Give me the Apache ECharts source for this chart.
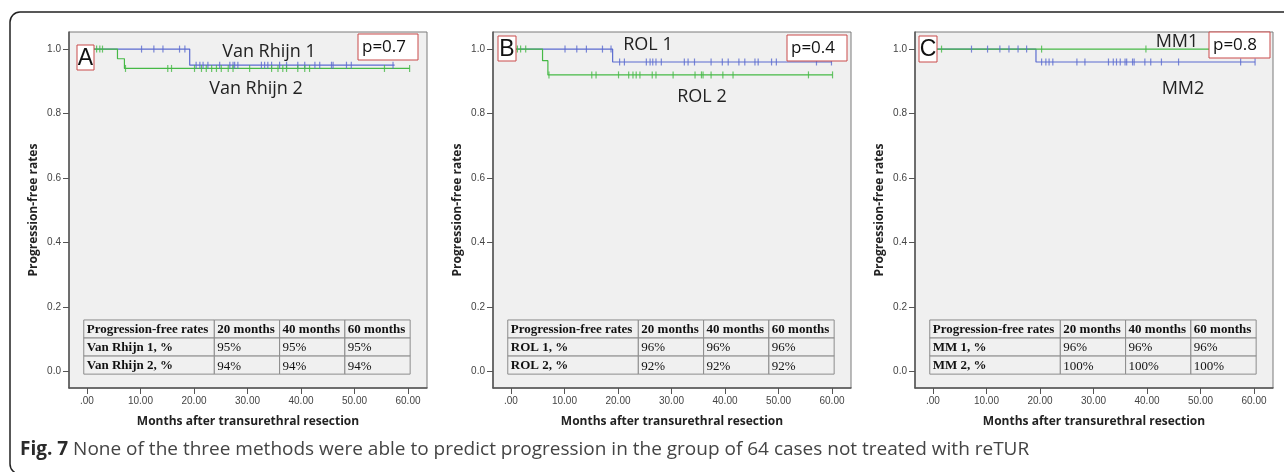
<!DOCTYPE html>
<html>
<head>
<meta charset="utf-8">
<script src="https://cdn.jsdelivr.net/npm/echarts@6/dist/echarts.min.js"></script>
<style>
  html, body { margin: 0; padding: 0; background: #fff; }
  #chart { width: 1284px; height: 472px; }
</style>
</head>
<body>
<div id="chart"></div>
<script>
// ---- data ----
const xTicks = [0, 10, 20, 30, 40, 50, 60];
const yTicks = [0, 0.2, 0.4, 0.6, 0.8, 1.0];
const tableHeader = ["Progression-free rates", "20 months", "40 months", "60 months"];

// A: Van Rhijn
const vr1Steps = [[0, 1], [19.2, 0.95], [57.5, 0.95]];
const vr1Censor = [10.2, 12.5, 14.2, 17.3, 18.3, 20.4, 21.1, 21.7, 22.6, 24.8, 26.7, 27.3, 27.6, 28.2,
  32.6, 33.2, 33.8, 34.5, 36.0, 37.3, 39.4, 40.7, 42.6, 43.5, 45.7, 46.0, 48.5, 49.4, 57.2];
const vr2Steps = [[0, 1], [5.7, 0.97], [7.0, 0.94], [60.3, 0.94]];
const vr2Censor = [1.8, 2.4, 2.9, 7.2, 15.1, 15.8, 20.1, 21.4, 22.3, 23.3, 24.2, 25.1, 26.4, 27.3,
  30.4, 34.5, 35.7, 36.6, 37.3, 39.4, 40.7, 41.6, 55.6, 60.3];
const vrTable = [["Van Rhijn 1, %", "95%", "95%", "95%"], ["Van Rhijn 2, %", "94%", "94%", "94%"]];

// B: ROL
const rol1Steps = [[0, 1], [19.0, 0.96], [60, 0.96]];
const rol1Censor = [10.1, 12.3, 14.1, 17.1, 18.7, 20.3, 21.2, 25.3, 26.0, 26.5, 27.1, 28.1, 32.4, 33.1,
  34.3, 37.4, 39.5, 40.6, 42.6, 43.7, 45.6, 46.2, 48.7, 49.6, 57.1, 59.9];
const rol2Steps = [[0, 1], [5.9, 0.964], [6.9, 0.92], [60.1, 0.92]];
const rol2Censor = [1.2, 1.8, 2.75, 7.1, 15.1, 15.9, 20.1, 22.0, 22.8, 23.4, 24.1, 26.4, 27.1, 30.3,
  34.4, 35.6, 35.9, 37.4, 39.6, 41.5, 55.6, 60.1];
const rolTable = [["ROL 1, %", "96%", "96%", "96%"], ["ROL 2, %", "92%", "92%", "92%"]];

// C: MM
const mm2Steps = [[0, 1], [19.25, 0.96], [60.2, 0.96]];
const mm2Censor = [7.2, 10.2, 12.5, 14.2, 15.9, 17.5, 20.3, 21.1, 21.7, 22.4, 26.9, 28.4, 32.8, 33.7,
  34.3, 35.0, 35.9, 36.2, 37.3, 37.6, 39.6, 40.7, 42.7, 45.9, 57.5, 60.2];
const mm1Steps = [[0, 1], [55, 1]];
const mm1Censor = [1.6, 20.3, 39.8];
const mmTable = [["MM 1, %", "96%", "96%", "96%"], ["MM 2, %", "100%", "100%", "100%"]];

// ---- layout ----
const BLUE = "#5b6bcf";
const GREEN = "#46b946";
const RED = "#c94a4a";
const tableCols = [-0.6, 23.8, 36.0, 48.2, 60.4];   // months
const tableRowsY = [0.16, 0.104, 0.048, -0.008];    // rate

const panels = [
  { left: 69, blue: [vr1Steps, vr1Censor], green: [vr2Steps, vr2Censor], table: vrTable,
    letter: "A", letterBox: [77, 45, 17, 25], pText: "p=0.7", pBox: [358, 34, 60, 26],
    lab1: ["Van Rhijn 1", 269, 52], lab2: ["Van Rhijn 2", 256, 89] },
  { left: 493, blue: [rol1Steps, rol1Censor], green: [rol2Steps, rol2Censor], table: rolTable,
    letter: "B", letterBox: [498, 36, 18, 25], pText: "p=0.4", pBox: [787, 35, 60, 26],
    lab1: ["ROL 1", 648, 45], lab2: ["ROL 2", 702, 97] },
  { left: 915, blue: [mm2Steps, mm2Censor], green: [mm1Steps, mm1Censor], table: mmTable,
    letter: "C", letterBox: [919, 36, 18, 26], pText: "p=0.8", pBox: [1209, 32, 61, 26],
    lab1: ["MM1", 1177, 42], lab2: ["MM2", 1183, 89] }
];

function survAt(steps, t) {
  let s = steps[0][1];
  steps.forEach((p) => { if (p[0] <= t) s = p[1]; });
  return s;
}

let grid = [], xAxis = [], yAxis = [], series = [], graphic = [];

panels.forEach((pn, i) => {
  grid.push({
    left: pn.left, top: 32, width: 358, height: 356, show: true,
    backgroundColor: "#f0f0f0", borderColor: "#7a7a7a", borderWidth: 1
  });
  xAxis.push({
    gridIndex: i, type: "value", min: -3.36, max: 63.55,
    name: "Months after transurethral resection", nameLocation: "middle", nameGap: 28,
    nameTextStyle: { fontFamily: "Open Sans", fontWeight: "bold", fontSize: 12, color: "#222" },
    axisLine: { onZero: false, lineStyle: { color: "#555", width: 1.5 } },
    axisTick: { customValues: xTicks, length: 6, lineStyle: { color: "#555" } },
    axisLabel: { customValues: xTicks, fontFamily: "Liberation Sans", fontSize: 10, color: "#444", margin: 8,
      formatter: (v) => (v === 0 ? ".00" : v.toFixed(2)) },
    splitLine: { show: false }
  });
  yAxis.push({
    gridIndex: i, type: "value", min: -0.051, max: 1.053,
    name: "Progression-free rates", nameLocation: "middle", nameGap: 29,
    nameTextStyle: { fontFamily: "Open Sans", fontWeight: "bold", fontSize: 12, color: "#222" },
    axisLine: { show: true, onZero: false, lineStyle: { color: "#555", width: 1.5 } },
    axisTick: { customValues: yTicks, length: 6, lineStyle: { color: "#555" } },
    axisLabel: { customValues: yTicks, fontFamily: "Liberation Sans", fontSize: 10, color: "#444", margin: 8,
      formatter: (v) => v.toFixed(1) },
    splitLine: { show: false }
  });

  // table inside the plot
  const rows = [tableHeader].concat(pn.table);
  series.push({
    type: "custom", xAxisIndex: i, yAxisIndex: i, clip: false, silent: true, z: 1,
    data: rows.map((r, k) => [k]),
    encode: { x: 0, y: 0 },
    renderItem: (params, api) => {
      const r = api.value(0);
      const children = [];
      for (let c = 0; c < 4; c++) {
        const p0 = api.coord([tableCols[c], tableRowsY[r]]);
        const p1 = api.coord([tableCols[c + 1], tableRowsY[r + 1]]);
        children.push({ type: "rect",
          shape: { x: p0[0], y: p0[1], width: p1[0] - p0[0], height: p1[1] - p0[1] },
          style: { fill: "#f0f0f0", stroke: "#8c8c8c", lineWidth: 1 } });
        children.push({ type: "text",
          style: { text: rows[r][c], x: p0[0] + 3, y: (p0[1] + p1[1]) / 2 + 1, verticalAlign: "middle",
            font: (r === 0 || c === 0 ? "bold " : "") + '13px "Liberation Serif"', fill: "#111" } });
      }
      return { type: "group", children: children };
    }
  });

  [[pn.blue, BLUE], [pn.green, GREEN]].forEach(([d, col]) => {
    series.push({
      type: "line", xAxisIndex: i, yAxisIndex: i, step: "end", data: d[0],
      symbol: "none", lineStyle: { color: col, width: 1.2 }, z: 3, silent: true
    });
  });
  [[pn.blue, BLUE], [pn.green, GREEN]].forEach(([d, col]) => {
    series.push({
      type: "scatter", xAxisIndex: i, yAxisIndex: i,
      data: d[1].map((t) => [t, survAt(d[0], t)]),
      symbol: "rect", symbolSize: [1.2, 7], itemStyle: { color: col }, z: 4, silent: true
    });
  });

  // annotations
  const lb = pn.letterBox, pb = pn.pBox;
  graphic.push({ type: "rect", shape: { x: lb[0], y: lb[1], width: lb[2], height: lb[3] },
    style: { fill: "#fff", stroke: RED, lineWidth: 1 }, z: 10 });
  graphic.push({ type: "text", x: lb[0] + lb[2] / 2, y: lb[1] + lb[3] / 2 + 1,
    style: { text: pn.letter, font: '23px "Liberation Sans"', fill: "#111", align: "center", verticalAlign: "middle" }, z: 11 });
  graphic.push({ type: "rect", shape: { x: pb[0], y: pb[1], width: pb[2], height: pb[3] },
    style: { fill: "#fff", stroke: RED, lineWidth: 1 }, z: 10 });
  graphic.push({ type: "text", x: pb[0] + 4, y: pb[1] + pb[3] / 2,
    style: { text: pn.pText, font: '17px "Open Sans"', fill: "#111", verticalAlign: "middle" }, z: 11 });
  [pn.lab1, pn.lab2].forEach((l) => {
    graphic.push({ type: "text", x: l[1], y: l[2],
      style: { text: l[0], font: '18px "Open Sans"', fill: "#222", align: "center", verticalAlign: "middle" }, z: 11 });
  });
});

// outer frame and caption
graphic.push({ type: "rect", shape: { x: 10, y: 12, width: 1300, height: 462, r: 10 },
  style: { fill: null, stroke: "#222", lineWidth: 1.5 }, z: 0, silent: true });
graphic.push({ type: "text", x: 20, y: 450,
  style: { text: "{b|Fig. 7} None of the three methods were able to predict progression in the group of 64 cases not treated with reTUR",
    font: '19px "Open Sans"', fill: "#444", verticalAlign: "middle",
    rich: { b: { fontFamily: "Open Sans", fontWeight: "bold", fontSize: 19, fill: "#2a2a2a" } } }, z: 11 });

let myCharts = echarts.init(document.getElementById("chart"));
myCharts.setOption({
  animation: false,
  grid: grid, xAxis: xAxis, yAxis: yAxis, series: series, graphic: graphic
});
</script>
</body>
</html>
